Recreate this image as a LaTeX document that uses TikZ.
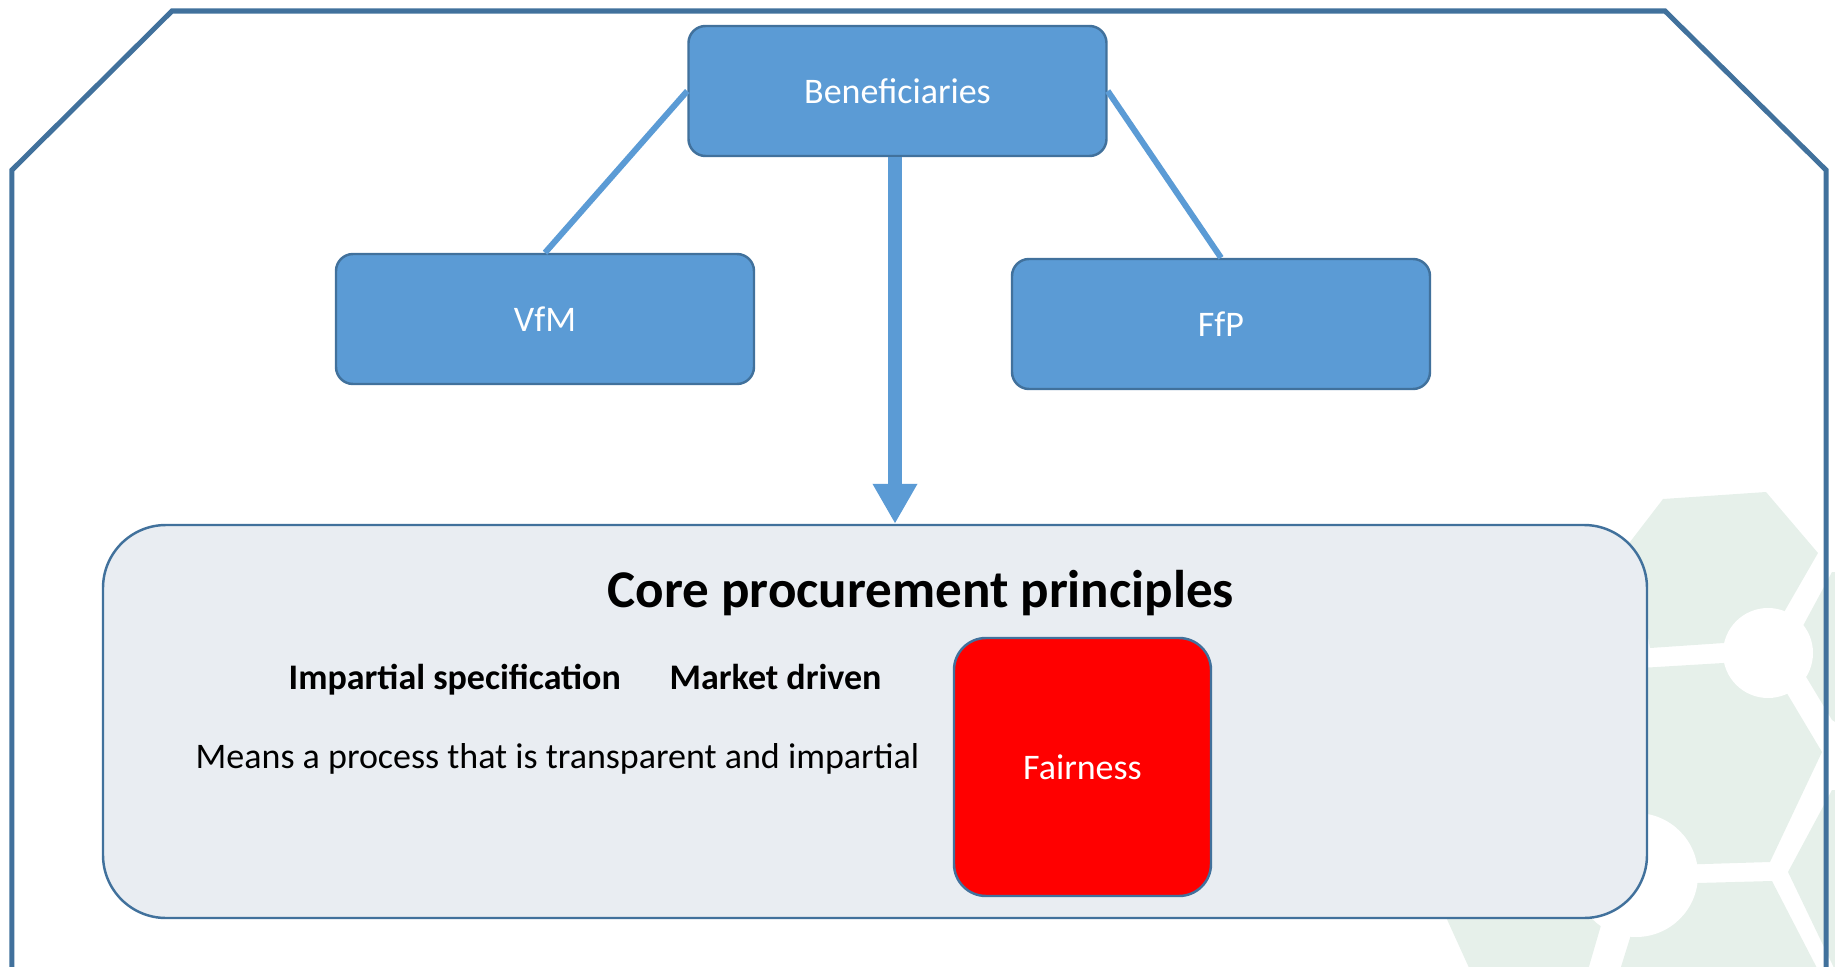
\documentclass[tikz,border=0pt]{standalone}
\usepackage{fontspec}
\setmainfont{Carlito}
\usetikzlibrary{arrows.meta}
\definecolor{boxblue}{RGB}{91,155,213}
\definecolor{edgeblue}{RGB}{65,113,156}
\definecolor{panelgrey}{RGB}{233,237,242}
\definecolor{hexgreen}{RGB}{230,240,234}
\definecolor{fairred}{RGB}{255,0,0}
\begin{document}
\begin{tikzpicture}[
    blue box/.style={draw=edgeblue, line width=0.7pt, fill=boxblue, rounded corners=0.17cm, minimum width=4.18cm, minimum height=1.30cm, text=white, font=\fontsize{10.24}{12}\selectfont},
    link line/.style={draw=boxblue, line width=0.06cm},
    body text/.style={font=\fontsize{10.24}{12}\selectfont, inner sep=0pt, anchor=base west},
    ]
\useasboundingbox (0,0) rectangle (18.35,-9.67);
\fill[hexgreen] (16.30,-5.42) -- (16.63,-4.99) -- (17.66,-4.92) -- (18.18,-5.53) -- (17.68,-6.40) -- (16.50,-6.48) -- cycle;
\fill[hexgreen] (17.90,-6.50) -- (18.32,-5.72) -- (18.40,-5.72) -- (18.40,-7.25) -- (18.32,-7.20) -- cycle;
\fill[hexgreen] (16.40,-6.68) -- (17.40,-6.62) -- (17.85,-6.90) -- (18.22,-7.52) -- (17.70,-8.62) -- (16.40,-8.66) -- cycle;
\fill[hexgreen] (16.60,-8.84) -- (17.72,-8.81) -- (18.18,-9.70) -- (16.20,-9.70) -- (16.35,-9.22) -- cycle;
\fill[hexgreen] (17.88,-8.72) -- (18.32,-7.90) -- (18.40,-7.90) -- (18.40,-9.70) -- (18.35,-9.70) -- cycle;
\fill[hexgreen] (14.20,-8.60) -- (16.20,-8.60) -- (15.88,-9.70) -- (14.70,-9.70) -- cycle;
\fill[white] (17.68,-6.53) circle (0.45);
\fill[white] (16.36,-8.75) circle (0.62);
\draw[edgeblue, line width=0.05cm] (0.12,-9.695) -- (0.12,-1.70) -- (1.72,-0.11) -- (16.65,-0.11) -- (18.26,-1.70) -- (18.26,-9.695) -- cycle;
\node[blue box] (ben) at (8.975,-0.91) {Beneficiaries};
\node[blue box] (vfm) at (5.45,-3.19) {VfM};
\node[blue box] (ffp) at (12.21,-3.24) {FfP};
\draw[link line] (ben.west) -- (vfm.north);
\draw[link line] (ben.east) -- (ffp.north);
\node[draw=edgeblue, line width=0.7pt, fill=panelgrey, rounded corners=0.63cm, minimum width=15.44cm, minimum height=3.93cm] (core) at (8.75,-7.215) {};
\coordinate (drop) at ([xshift=-0.025cm]ben.south);
\draw[draw=boxblue, line width=0.14cm, -{Triangle[width=0.42cm, length=0.40cm]}] (drop) -- (drop |- core.north);
\node[font=\fontsize{15.1}{18}\selectfont\bfseries, inner sep=0pt, anchor=base] (title) at (9.21,-6.07) {Core procurement principles};
\node[body text, font=\fontsize{10.24}{12}\selectfont\bfseries] (spec) at (2.88,-6.89) {Impartial specification};
\node[body text, font=\fontsize{10.24}{12}\selectfont\bfseries] (market) at (6.69,-6.89) {Market driven};
\node[body text] (means) at (1.95,-7.68) {Means a process that is transparent and impartial};
\node[draw=edgeblue, line width=0.7pt, fill=fairred, rounded corners=0.32cm, minimum width=2.57cm, minimum height=2.58cm, text=white, font=\fontsize{10.24}{12}\selectfont] (fair) at (10.825,-7.67) {Fairness};
\end{tikzpicture}
\end{document}
